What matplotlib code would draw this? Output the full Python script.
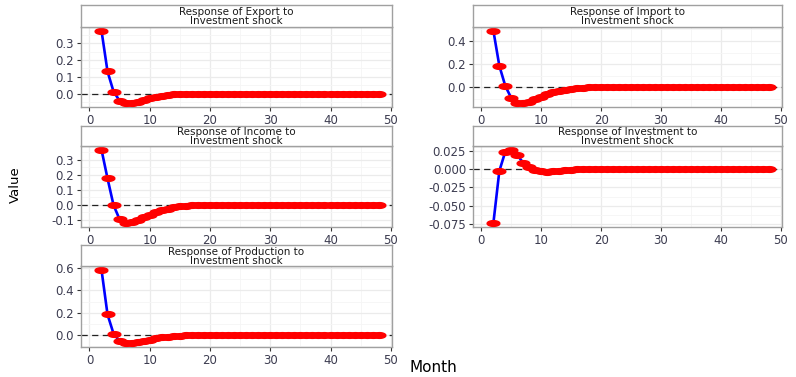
import numpy as np
import matplotlib
matplotlib.use("Agg")
import matplotlib.pyplot as plt
from matplotlib.path import Path
from matplotlib.ticker import MultipleLocator, FormatStrFormatter

plt.rcParams["font.family"] = ["DejaVu Sans"]

months = list(range(2, 49))

export = [0.375, 0.132, 0.012, -0.042, -0.058, -0.057, -0.048, -0.038, -0.028, -0.019,
          -0.012, -0.007, -0.004, -0.002, -0.001, 0.0, 0.0, 0.0, 0.0, 0.0,
          0.0, 0.0, 0.0, 0.0, 0.0, 0.0, 0.0, 0.0, 0.0, 0.0,
          0.0, 0.0, 0.0, 0.0, 0.0, 0.0, 0.0, 0.0, 0.0, 0.0,
          0.0, 0.0, 0.0, 0.0, 0.0, 0.0, 0.0]
imports = [0.49, 0.185, 0.01, -0.095, -0.135, -0.14, -0.125, -0.105, -0.083, -0.062,
           -0.045, -0.031, -0.02, -0.012, -0.007, -0.004, -0.002, -0.001, 0.0, 0.0,
           0.0, 0.0, 0.0, 0.0, 0.0, 0.0, 0.0, 0.0, 0.0, 0.0,
           0.0, 0.0, 0.0, 0.0, 0.0, 0.0, 0.0, 0.0, 0.0, 0.0,
           0.0, 0.0, 0.0, 0.0, 0.0, 0.0, 0.0]
income = [0.368, 0.176, -0.003, -0.097, -0.124, -0.118, -0.103, -0.085, -0.067, -0.051,
          -0.037, -0.025, -0.016, -0.010, -0.006, -0.003, -0.002, -0.001, 0.0, 0.0,
          0.0, 0.0, 0.0, 0.0, 0.0, 0.0, 0.0, 0.0, 0.0, 0.0,
          0.0, 0.0, 0.0, 0.0, 0.0, 0.0, 0.0, 0.0, 0.0, 0.0,
          0.0, 0.0, 0.0, 0.0, 0.0, 0.0, 0.0]
investment = [-0.074, -0.0025, 0.024, 0.0265, 0.019, 0.0085, 0.003, -0.001, -0.003, -0.0035,
              -0.003, -0.002, -0.0012, -0.0006, -0.0002, 0.0, 0.0, 0.0, 0.0, 0.0,
              0.0, 0.0, 0.0, 0.0, 0.0, 0.0, 0.0, 0.0, 0.0, 0.0,
              0.0, 0.0, 0.0, 0.0, 0.0, 0.0, 0.0, 0.0, 0.0, 0.0,
              0.0, 0.0, 0.0, 0.0, 0.0, 0.0, 0.0]
production = [0.585, 0.184, 0.012, -0.053, -0.074, -0.07, -0.06, -0.05, -0.04, -0.03,
              -0.021, -0.014, -0.009, -0.005, -0.003, -0.001, 0.0, 0.0, 0.0, 0.0,
              0.0, 0.0, 0.0, 0.0, 0.0, 0.0, 0.0, 0.0, 0.0, 0.0,
              0.0, 0.0, 0.0, 0.0, 0.0, 0.0, 0.0, 0.0, 0.0, 0.0,
              0.0, 0.0, 0.0, 0.0, 0.0, 0.0, 0.0]

titles = ["Response of Export to\nInvestment shock",
          "Response of Import to\nInvestment shock",
          "Response of Income to\nInvestment shock",
          "Response of Investment to\nInvestment shock",
          "Response of Production to\nInvestment shock"]
series = [export, imports, income, investment, production]
ystep = [0.1, 0.2, 0.1, 0.025, 0.2]
yfmt = ["%.1f", "%.1f", "%.1f", "%.3f", "%.1f"]

W, H = 796, 377
fig = plt.figure(figsize=(W / 100, H / 100), dpi=100)

# pixel layout: (left, right) per column, (strip_top, panel_top, panel_bottom) per row
cols = [(81, 392), (473, 782)]
rows = [(5, 27, 107), (126, 146, 227), (245, 266, 347)]

# flat ellipse marker (the original picture is stretched sideways)
t = np.linspace(0, 2 * np.pi, 40)
ellipse = Path(np.column_stack([np.cos(t), 0.45 * np.sin(t)]))

grey_txt = "#3C3C50"
border = "#A0A0A0"

for i, (title, vals) in enumerate(zip(titles, series)):
    r, c = divmod(i, 2)
    x0, x1 = cols[c]
    st, pt, pb = rows[r]
    ax = fig.add_axes([x0 / W, 1 - pb / H, (x1 - x0) / W, (pb - pt) / H])
    sx = fig.add_axes([x0 / W, 1 - pt / H, (x1 - x0) / W, (pt - st) / H])

    ax.axhline(0, color="#222222", lw=0.9, ls=(0, (5, 3.5)), zorder=2)
    ax.plot(months, vals, color="blue", lw=1.9, zorder=3)
    ax.plot(months, vals, ls="none", marker=ellipse, ms=9.2, color="red",
            mec="red", zorder=4)

    ax.set_xlim(-1.4, 50.2)
    ax.margins(y=0.05)
    ax.xaxis.set_major_locator(MultipleLocator(10))
    ax.xaxis.set_minor_locator(MultipleLocator(5))
    ax.yaxis.set_major_locator(MultipleLocator(ystep[i]))
    ax.yaxis.set_minor_locator(MultipleLocator(ystep[i] / 2))
    ax.yaxis.set_major_formatter(FormatStrFormatter(yfmt[i]))
    ax.grid(which="major", color="#EBEBEB", lw=0.9, zorder=0)
    ax.grid(which="minor", color="#F5F5F5", lw=0.6, zorder=0)
    ax.set_axisbelow(True)
    ax.tick_params(which="major", length=3, width=0.8, color="#333333",
                   labelsize=8.5, labelcolor=grey_txt, pad=2.0)
    ax.tick_params(which="minor", length=0)
    for s in ax.spines.values():
        s.set_color(border)
        s.set_linewidth(1.0)

    sx.set_xticks([])
    sx.set_yticks([])
    sx.set_facecolor("white")
    for s in sx.spines.values():
        s.set_color(border)
        s.set_linewidth(1.0)
    sx.text(0.5, 0.47, title, ha="center", va="center", fontsize=7.5,
            color="#1A1A1A", linespacing=0.9, transform=sx.transAxes)

fig.text(433 / W, 1 - 368 / H, "Month", ha="center", va="center", fontsize=11)
fig.text(15 / W, 1 - 185 / H, "Value", ha="center", va="center", fontsize=9.5,
         rotation=90)

fig.savefig("out.png", dpi=100)
